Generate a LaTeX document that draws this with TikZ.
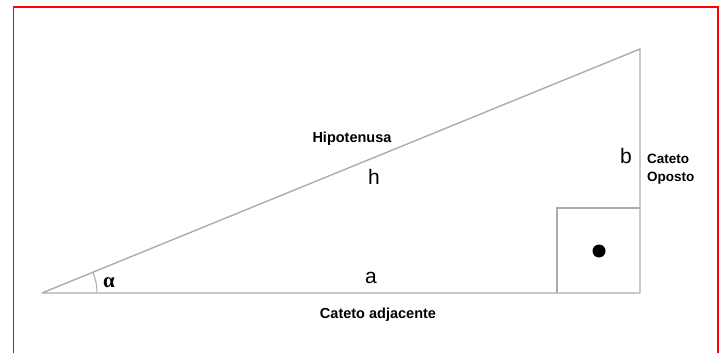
\documentclass[tikz,border=0pt]{standalone}
\usepackage{fontspec}
\setmainfont{Liberation Sans}
\newfontfamily\serifalpha{Liberation Serif}
\begin{document}
\begin{tikzpicture}[x=1pt,y=-1pt,
  edge/.style={draw=gray!65, line width=1.4pt},
  small/.style={font=\fontsize{14.5}{17}\selectfont\bfseries, inner sep=0pt},
  big/.style={font=\fontsize{21}{24}\selectfont, inner sep=0pt},
  frame/.style={draw=red, line width=1.5pt}]
\useasboundingbox (0,0) rectangle (725,353);
\begin{scope}
\clip (0,0) rectangle (725,353);
\draw[frame] (13.5,370) -- (13.5,7) -- (718,7) -- (718,370);
\end{scope}
% vertices
\coordinate (A) at (42,293);
\coordinate (B) at (640,293);
\coordinate (C) at (640,49);
\coordinate (S1) at (557,293);
\coordinate (S2) at (557,208);
\coordinate (S3) at (640,208);
\draw[edge, line join=round] (A) -- (B) -- (C) -- cycle;
\draw[edge] (S1) -- (S2) -- (S3);
\node[circle, fill=black, inner sep=0pt, minimum size=13pt] (dot) at (599,251) {};
% angle arc
\draw[draw=gray!65, line width=1pt] ([xshift=55pt]A) arc[start angle=0, end angle=22.3, radius=55pt];
\node[font=\fontsize{21}{24}\selectfont\serifalpha\bfseries, inner sep=0pt, anchor=base] (alpha) at (109,287) {α};
% labels
\node[small, anchor=base] (hip) at (352,142) {Hipotenusa};
\node[big, anchor=base] (h) at (374,184) {h};
\node[big, anchor=base] (a) at (371,283) {a};
\node[small, anchor=base] (adj) at (378,318) {Cateto adjacente};
\node[big, anchor=base] (b) at (626,163) {b};
\node[small, anchor=base west, align=left, font=\fontsize{13.5}{18}\selectfont\bfseries] (op) at (647,181) {Cateto\\Oposto};
\end{tikzpicture}
\end{document}
